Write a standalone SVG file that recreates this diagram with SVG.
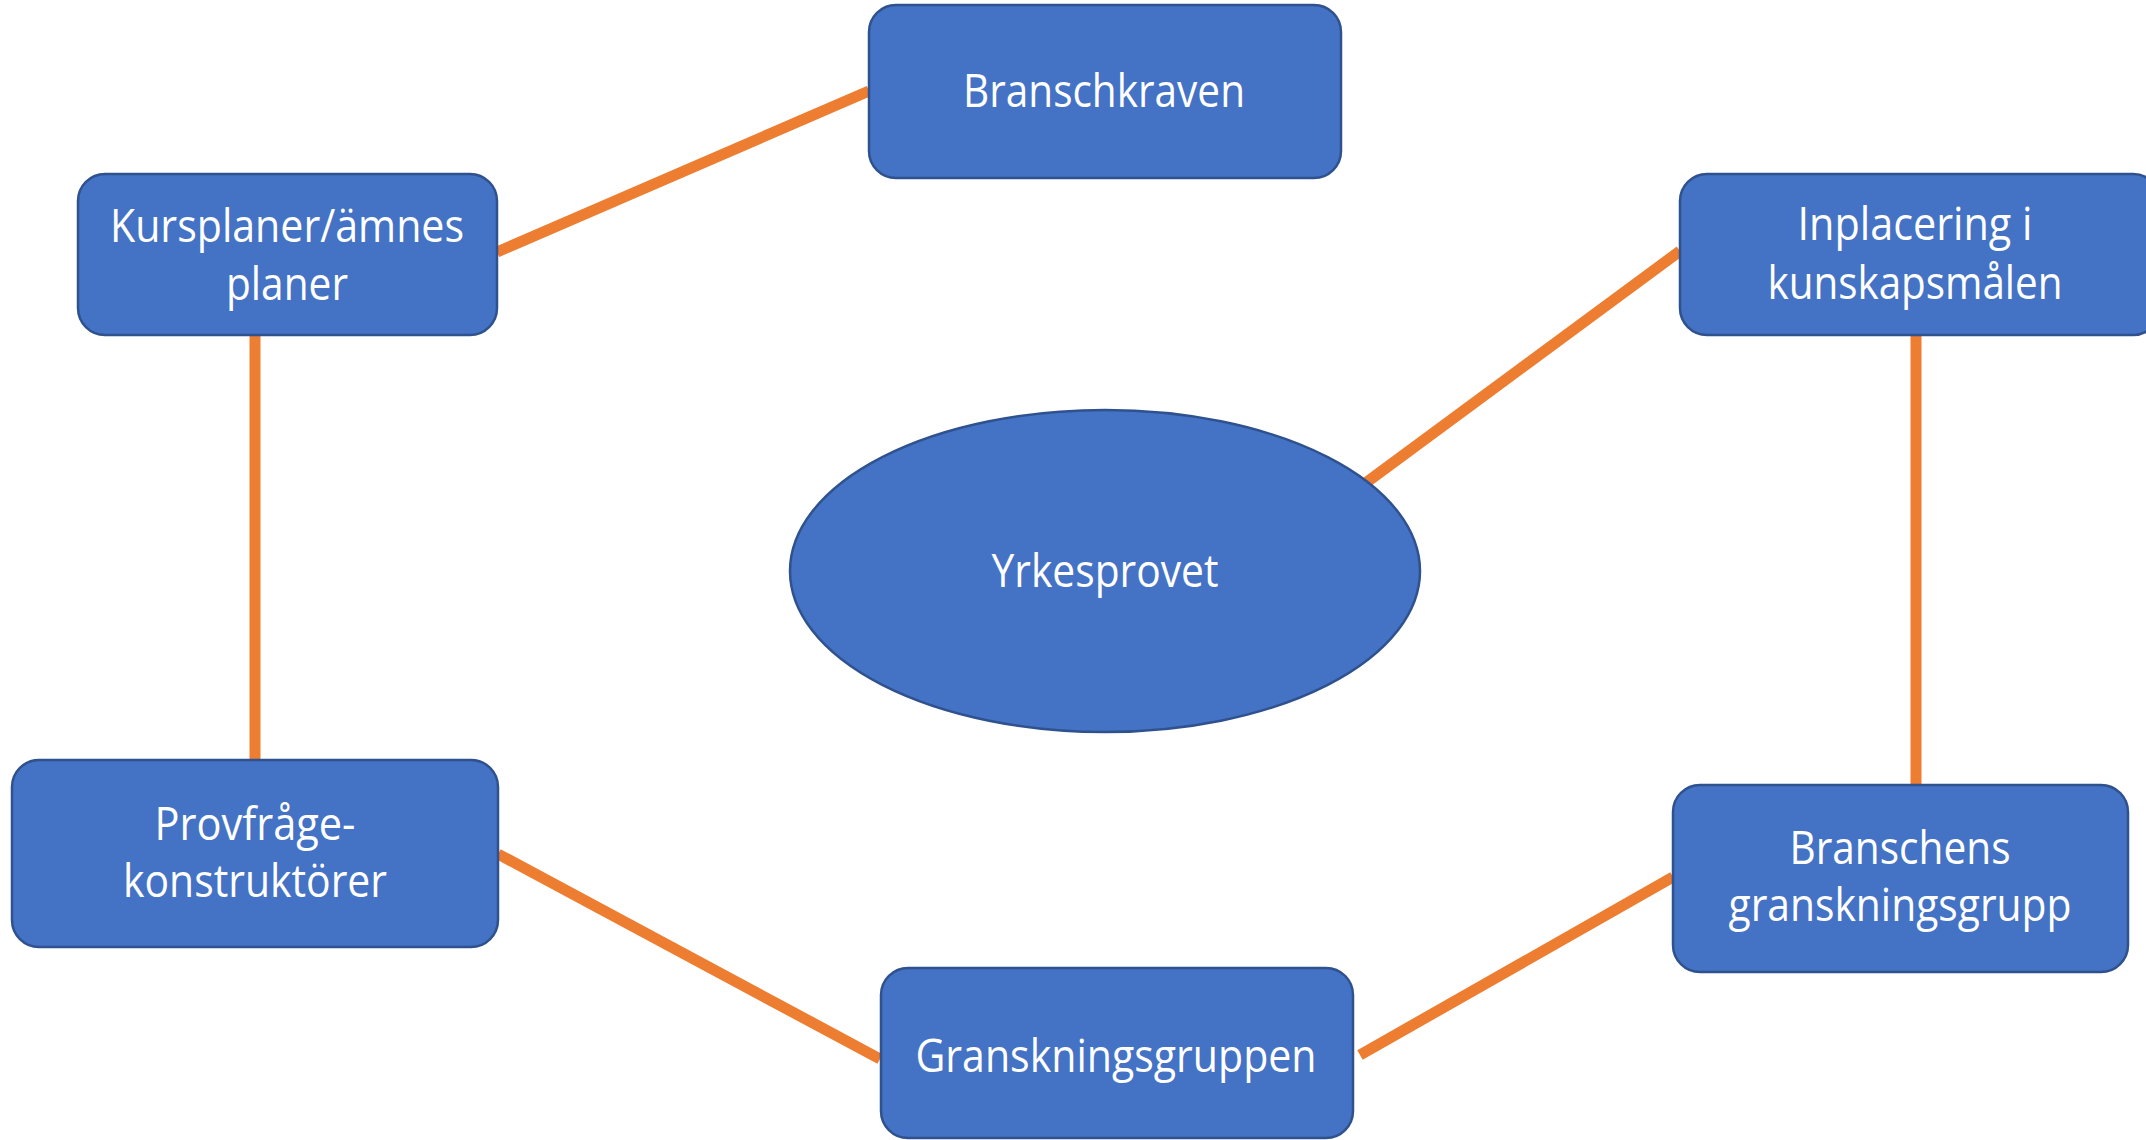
<svg xmlns="http://www.w3.org/2000/svg" width="2146" height="1140" viewBox="0 0 2146 1140">
<style>
.box{fill:#4472C4;stroke:#2F528F;stroke-width:2.5}
.lbl{fill:#FFFFFF;font-family:"Open Sans","Noto Sans","Liberation Sans",sans-serif;font-size:46px;text-anchor:middle}
.con{stroke:#ED7D31;stroke-width:11;fill:none}
</style>
<rect width="2146" height="1140" fill="#FFFFFF"/>
<g id="connectors">
<line class="con" x1="497" y1="252" x2="869" y2="91"/>
<line class="con" x1="255" y1="335" x2="255" y2="760"/>
<line class="con" x1="498" y1="854" x2="880" y2="1059"/>
<line class="con" x1="1360" y1="1055" x2="1673" y2="877"/>
<line class="con" x1="1916" y1="335" x2="1916" y2="785"/>
<line class="con" x1="1367" y1="482" x2="1680" y2="251"/>
</g>
<g id="branschkraven">
<rect class="box" x="869" y="5" width="472" height="173" rx="27"/>
<text class="lbl" x="1104" y="107" textLength="282" lengthAdjust="spacingAndGlyphs">Branschkraven</text>
</g>
<g id="kursplaner">
<rect class="box" x="78" y="174" width="419" height="161" rx="27"/>
<text class="lbl" x="287" y="242" textLength="354" lengthAdjust="spacingAndGlyphs">Kursplaner/ämnes</text>
<text class="lbl" x="287" y="300" textLength="122" lengthAdjust="spacingAndGlyphs">planer</text>
</g>
<g id="inplacering">
<rect class="box" x="1680" y="174" width="480" height="161" rx="27"/>
<text class="lbl" x="1915" y="240" textLength="235" lengthAdjust="spacingAndGlyphs">Inplacering i</text>
<text class="lbl" x="1915" y="299" textLength="295" lengthAdjust="spacingAndGlyphs">kunskapsmålen</text>
</g>
<g id="yrkesprovet">
<ellipse class="box" cx="1105" cy="571" rx="315" ry="161"/>
<text class="lbl" x="1105" y="587" textLength="227" lengthAdjust="spacingAndGlyphs">Yrkesprovet</text>
</g>
<g id="provfragekonstruktorer">
<rect class="box" x="12" y="760" width="486" height="187" rx="27"/>
<text class="lbl" x="255" y="840" textLength="201" lengthAdjust="spacingAndGlyphs">Provfråge-</text>
<text class="lbl" x="255" y="897" textLength="264" lengthAdjust="spacingAndGlyphs">konstruktörer</text>
</g>
<g id="granskningsgruppen">
<rect class="box" x="881" y="968" width="472" height="170" rx="27"/>
<text class="lbl" x="1116" y="1072" textLength="401" lengthAdjust="spacingAndGlyphs">Granskningsgruppen</text>
</g>
<g id="branschensgranskningsgrupp">
<rect class="box" x="1673" y="785" width="455" height="187" rx="27"/>
<text class="lbl" x="1900" y="864" textLength="221" lengthAdjust="spacingAndGlyphs">Branschens</text>
<text class="lbl" x="1900" y="921" textLength="343" lengthAdjust="spacingAndGlyphs">granskningsgrupp</text>
</g>
</svg>
